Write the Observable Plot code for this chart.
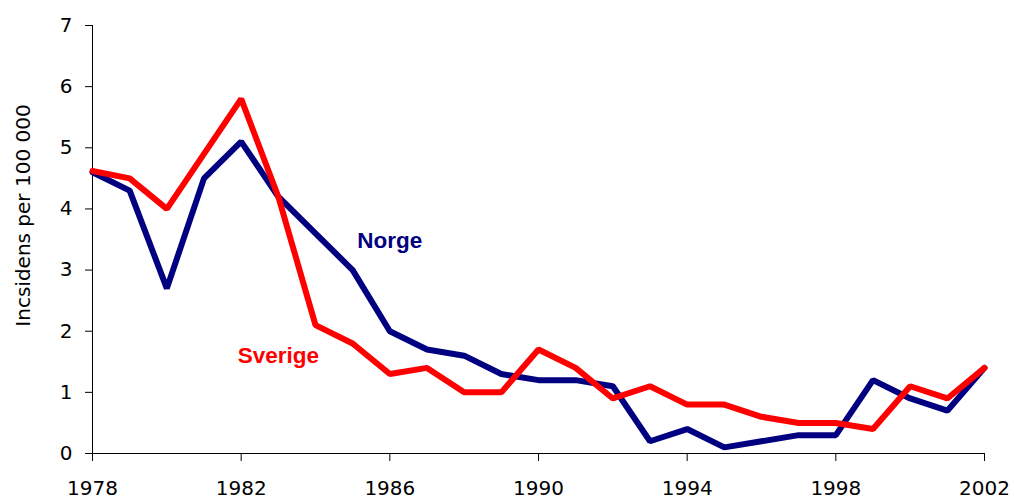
<!DOCTYPE html>
<html>
<head>
<meta charset="utf-8">
<script src="https://cdn.jsdelivr.net/npm/d3@7"></script>
<script src="https://cdn.jsdelivr.net/npm/@observablehq/plot@0.6"></script>
<style>
  html, body { margin: 0; padding: 0; background: #fff; }
</style>
</head>
<body>
<div id="chart"></div>
<script>
const years = d3.range(1978, 2003);
const norge = [4.6, 4.3, 2.7, 4.5, 5.1, 4.2, 3.6, 3.0, 2.0, 1.7, 1.6, 1.3, 1.2, 1.2, 1.1, 0.2, 0.4, 0.1, 0.2, 0.3, 0.3, 1.2, 0.9, 0.7, 1.4];
const sverige = [4.62, 4.5, 4.0, 4.9, 5.8, 4.2, 2.1, 1.8, 1.3, 1.4, 1.0, 1.0, 1.7, 1.4, 0.9, 1.1, 0.8, 0.8, 0.6, 0.5, 0.5, 0.4, 1.1, 0.9, 1.4];
const xTicks = [1978, 1982, 1986, 1990, 1994, 1998, 2002];
const yTicks = [0, 1, 2, 3, 4, 5, 6, 7];
const seriesNames = ["Norge", "Sverige"];
const seriesColors = ["#000080", "#FF0000"];
// annotation anchor points (data units)
const labelYears = [1986, 1983];
const labelValues = [3.48, 1.59];
const yTitle = "Incsidens per 100 000";

const rows = [
  ...years.map((year, i) => ({year, value: norge[i], series: "Norge"})),
  ...years.map((year, i) => ({year, value: sverige[i], series: "Sverige"}))
];
const labels = seriesNames.map((name, i) => ({name, year: labelYears[i], value: labelValues[i]}));

const chart = Plot.plot({
  width: 1014,
  height: 501,
  marginLeft: 92,
  marginRight: 30,
  marginTop: 25,
  marginBottom: 48,
  style: {fontFamily: "'DejaVu Sans', sans-serif", fontSize: "20px", color: "#000", background: "#fff"},
  x: {domain: [1978, 2002]},
  y: {domain: [0, 7]},
  color: {domain: seriesNames, range: seriesColors},
  marks: [
    Plot.axisX({ticks: xTicks, tickFormat: "d", tickSize: 8, tickPadding: 19, label: null, stroke: "#000", fill: "#000", fontSize: 20}),
    Plot.axisY({ticks: yTicks, tickFormat: "d", tickSize: 7, tickPadding: 13, label: null, stroke: "#000", fill: "#000", fontSize: 20}),
    Plot.ruleX([1978], {stroke: "#000", strokeWidth: 1}),
    Plot.ruleY([0], {stroke: "#000", strokeWidth: 1}),
    Plot.line(rows, {x: "year", y: "value", z: "series", stroke: "series", strokeWidth: 6, strokeLinejoin: "miter", strokeLinecap: "round"}),
    Plot.text(labels, {x: "year", y: "value", text: "name", fill: (d) => d.name, fontFamily: "'Liberation Sans', Arial, sans-serif", fontWeight: "bold", fontSize: 22.5}),
    Plot.text([yTitle], {text: (d) => d, frameAnchor: "left", textAnchor: "middle", rotate: -90, dx: -69, dy: -24, fill: "#000", fontSize: 20})
  ]
});
document.getElementById("chart").appendChild(chart);
</script>
</body>
</html>
